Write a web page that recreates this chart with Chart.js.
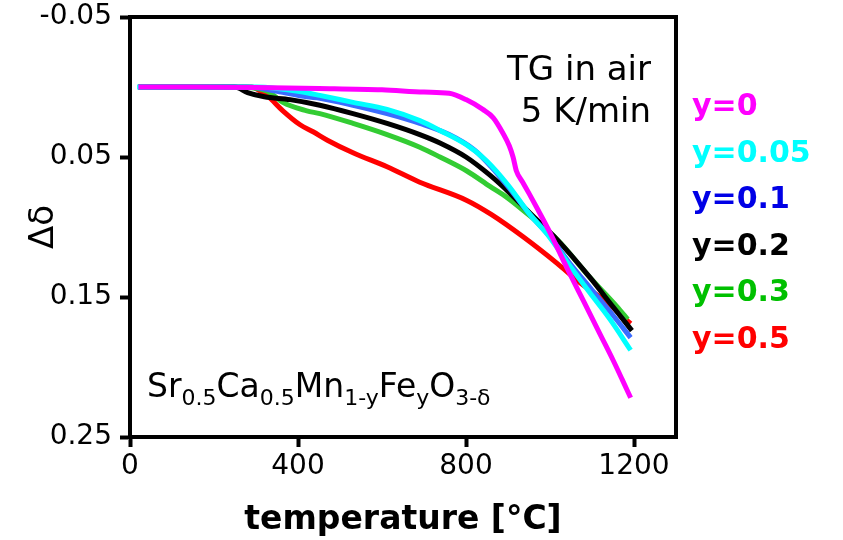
<!DOCTYPE html>
<html>
<head>
<meta charset="utf-8">
<script src="https://cdn.jsdelivr.net/npm/chart.js@4"></script>
<style>
  body { margin: 0; background: #fff; }
  canvas { display: block; }
</style>
</head>
<body>
<canvas id="chart" width="843" height="540"></canvas>
<script>
// series names and colours
const seriesLabels = ['y=0', 'y=0.05', 'y=0.1', 'y=0.2', 'y=0.3', 'y=0.5'];
const lineColors = ['#ff00ff', '#00ffff', '#3b6cff', '#000000', '#33cc33', '#ff0000'];
const labelColors = ['#ff00ff', '#00ffff', '#0000e6', '#000000', '#00c000', '#ff0000'];

// temperature [°C] and delta for each composition
const tempY0 = [20, 150, 300, 450, 600, 700, 760, 800, 840, 865, 888, 903, 912, 920, 935, 950, 970, 1000, 1040, 1080, 1120, 1150, 1172, 1192];
const deltaY0 = [0, 0, 0.0003, 0.001, 0.002, 0.0036, 0.0045, 0.009, 0.016, 0.022, 0.033, 0.042, 0.05, 0.06, 0.068, 0.076, 0.087, 0.104, 0.129, 0.153, 0.177, 0.195, 0.209, 0.222];

const tempY005 = [17, 150, 300, 350, 400, 452, 531, 612, 690, 738, 800, 850, 900, 952, 993, 1048, 1095, 1143, 1192];
const deltaY005 = [0, 0, 0, 0.001, 0.003, 0.006, 0.011, 0.016, 0.024, 0.031, 0.041, 0.053, 0.07, 0.091, 0.105, 0.128, 0.147, 0.166, 0.188];

const tempY01 = [20, 150, 280, 350, 421, 452, 531, 612, 690, 760, 820, 860, 905, 952, 1000, 1050, 1100, 1150, 1192];
const deltaY01 = [0, 0, 0, 0.003, 0.007, 0.008, 0.013, 0.019, 0.026, 0.034, 0.045, 0.057, 0.073, 0.091, 0.107, 0.127, 0.145, 0.163, 0.179];

const tempY02 = [20, 150, 250, 280, 320, 381, 452, 531, 612, 690, 738, 800, 857, 905, 952, 1017, 1095, 1150, 1195];
const deltaY02 = [0, 0, 0, 0.004, 0.007, 0.009, 0.013, 0.019, 0.026, 0.034, 0.04, 0.05, 0.063, 0.076, 0.09, 0.109, 0.136, 0.157, 0.174];

const tempY03 = [20, 150, 250, 300, 333, 364, 421, 452, 531, 612, 690, 738, 802, 857, 898, 936, 1017, 1095, 1160, 1185];
const deltaY03 = [0, 0, 0, 0.001, 0.004, 0.011, 0.017, 0.019, 0.026, 0.034, 0.043, 0.05, 0.06, 0.071, 0.079, 0.088, 0.109, 0.136, 0.157, 0.166];

const tempY05 = [20, 150, 290, 305, 326, 364, 405, 436, 470, 531, 612, 690, 802, 860, 936, 1017, 1064, 1136, 1192];
const deltaY05 = [0, 0, 0, 0.002, 0.006, 0.017, 0.027, 0.032, 0.038, 0.047, 0.057, 0.068, 0.081, 0.091, 0.107, 0.126, 0.138, 0.154, 0.169];

const temps = [tempY0, tempY005, tempY01, tempY02, tempY03, tempY05];
const deltas = [deltaY0, deltaY005, deltaY01, deltaY02, deltaY03, deltaY05];

const xTicks = [0, 400, 800, 1200];
const yTicks = [-0.05, 0.05, 0.15, 0.25];

const datasets = seriesLabels.map((lab, i) => ({
  label: lab,
  data: temps[i].map((t, j) => ({x: t, y: deltas[i][j]})),
  borderColor: lineColors[i],
  backgroundColor: lineColors[i],
  borderWidth: 5,
  pointRadius: 0,
  cubicInterpolationMode: 'monotone',
  fill: false
}));

const tickFont = {family: 'DejaVu Sans', size: 28};

// frame, notes and the coloured series labels
const extras = {
  id: 'extras',
  afterDraw(chart) {
    const ctx = chart.ctx;
    const a = chart.chartArea;
    ctx.save();
    ctx.strokeStyle = '#000';
    ctx.lineWidth = 4;
    ctx.strokeRect(a.left, a.top, a.right - a.left, a.bottom - a.top);

    ctx.fillStyle = '#000';
    ctx.font = '34px "DejaVu Sans"';
    ctx.textAlign = 'right';
    ctx.textBaseline = 'alphabetic';
    ctx.fillText('TG in air', 651, 80);
    ctx.fillText('5 K/min', 651, 122);

    // Sr0.5Ca0.5Mn1-yFeyO3-δ
    const parts = [['Sr', 0], ['0.5', 1], ['Ca', 0], ['0.5', 1], ['Mn', 0], ['1-y', 1],
                   ['Fe', 0], ['y', 1], ['O', 0], ['3-δ', 1]];
    ctx.textAlign = 'left';
    let x = 147;
    parts.forEach(p => {
      ctx.font = p[1] ? '22px "DejaVu Sans"' : '33px "DejaVu Sans"';
      ctx.fillText(p[0], x, p[1] ? 405 : 397);
      x += ctx.measureText(p[0]).width;
    });

    ctx.font = 'bold 30px "DejaVu Sans"';
    seriesLabels.forEach((lab, i) => {
      ctx.fillStyle = labelColors[i];
      ctx.fillText(lab, 692, 115 + i * 46.6);
    });
    ctx.restore();
  }
};

const config = {
  type: 'line',
  data: {datasets: datasets},
  options: {
    responsive: false,
    animation: false,
    layout: {padding: {top: 17, right: 167, left: 0, bottom: 0}},
    plugins: {legend: {display: false}, tooltip: {enabled: false}},
    scales: {
      x: {
        type: 'linear',
        min: 0,
        max: 1300,
        afterBuildTicks: (s) => { s.ticks = xTicks.map(v => ({value: v})); },
        afterFit: (s) => { s.height = 103; s.paddingLeft = 0; s.paddingRight = 0; },
        grid: {drawOnChartArea: false, tickLength: 10, tickWidth: 4, tickColor: '#000'},
        border: {display: true, width: 4, color: '#000'},
        ticks: {color: '#000', font: tickFont, padding: 3, maxRotation: 0, callback: (v) => String(v)},
        title: {display: true, text: 'temperature [°C]', color: '#000',
                font: {family: 'DejaVu Sans', size: 33, weight: 'bold'}, padding: {bottom: 0}}
      },
      y: {
        type: 'linear',
        reverse: true,
        min: -0.05,
        max: 0.25,
        afterBuildTicks: (s) => { s.ticks = yTicks.map(v => ({value: v})); },
        afterFit: (s) => { s.width = 130; s.paddingTop = 0; s.paddingBottom = 0; },
        grid: {drawOnChartArea: false, tickLength: 10, tickWidth: 4, tickColor: '#000'},
        border: {display: true, width: 4, color: '#000'},
        ticks: {color: '#000', font: tickFont, padding: 8, callback: (v) => v.toFixed(2)},
        title: {display: true, text: 'Δδ', color: '#000',
                font: {family: 'DejaVu Sans', size: 34}, padding: {top: 24}}
      }
    }
  },
  plugins: [extras]
};

const ctx = document.getElementById('chart');
var myChart = new Chart(ctx, config);
</script>
</body>
</html>
